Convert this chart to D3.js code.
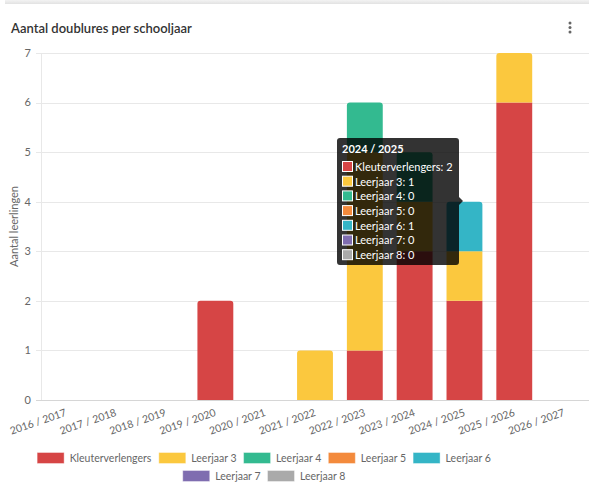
<!DOCTYPE html>
<html>
<head>
<meta charset="utf-8">
<script src="https://cdn.jsdelivr.net/npm/d3@7"></script>
<style>
  body { margin: 0; background: #fff; }
  svg { display: block; }
</style>
</head>
<body>
<div id="chart"></div>
<script>
// schooljaren op de x-as
const schooljaren = ['2016 / 2017', '2017 / 2018', '2018 / 2019', '2019 / 2020', '2020 / 2021',
  '2021 / 2022', '2022 / 2023', '2023 / 2024', '2024 / 2025', '2025 / 2026', '2026 / 2027'];

const reeksen = ['Kleuterverlengers', 'Leerjaar 3', 'Leerjaar 4', 'Leerjaar 5', 'Leerjaar 6', 'Leerjaar 7', 'Leerjaar 8'];

const kleuterverlengers = [0, 0, 0, 2, 0, 0, 1, 3, 2, 6, 0];
const leerjaar3 = [0, 0, 0, 0, 0, 1, 4, 1, 1, 1, 0];
const leerjaar4 = [0, 0, 0, 0, 0, 0, 1, 1, 0, 0, 0];
const leerjaar5 = [0, 0, 0, 0, 0, 0, 0, 0, 0, 0, 0];
const leerjaar6 = [0, 0, 0, 0, 0, 0, 0, 0, 1, 0, 0];
const leerjaar7 = [0, 0, 0, 0, 0, 0, 0, 0, 0, 0, 0];
const leerjaar8 = [0, 0, 0, 0, 0, 0, 0, 0, 0, 0, 0];

const yTicks = [0, 1, 2, 3, 4, 5, 6, 7];
const tooltipJaar = '2024 / 2025';

const kleuren = ['#d64545', '#fbc83e', '#33ba90', '#f38a3c', '#34b5c6', '#7f6db0', '#aaaaaa'];

const waarden = [kleuterverlengers, leerjaar3, leerjaar4, leerjaar5, leerjaar6, leerjaar7, leerjaar8];

const width = 589,
  height = 495;
const font = 'Lato, "Noto Sans", sans-serif';

// tabel per schooljaar
let tabel = schooljaren.map((jaar, i) => {
  let rij = { jaar: jaar };
  reeksen.forEach((r, k) => rij[r] = waarden[k][i]);
  return rij;
});

let color = d3.scaleOrdinal().domain(reeksen).range(kleuren);

let x = d3.scaleBand()
  .domain(schooljaren)
  .range([41, 589])
  .paddingInner(0.28)
  .paddingOuter(0.14);

let y = d3.scaleLinear()
  .domain([0, 7])
  .range([400, 53]);

const svg = d3.select('#chart').append('svg')
  .attr('width', width)
  .attr('height', height)
  .style('font-family', font);

// grijze rand bovenaan (vorige kaart)
const grad = svg.append('defs').append('linearGradient')
  .attr('id', 'rand').attr('x1', 0).attr('x2', 0).attr('y1', 0).attr('y2', 1);
grad.append('stop').attr('offset', 0).attr('stop-color', '#f3f3f3');
grad.append('stop').attr('offset', 1).attr('stop-color', '#e2e2e2');
svg.append('rect').attr('x', 5).attr('y', 0).attr('width', width - 5).attr('height', 4)
  .attr('fill', 'url(#rand)');

// titel
svg.append('text')
  .attr('x', 11).attr('y', 33)
  .attr('fill', '#333')
  .style('font-size', '13px')
  .style('font-weight', 600)
  .text('Aantal doublures per schooljaar');

// menu-puntjes
svg.append('g').selectAll('circle')
  .data([0, 1, 2])
  .enter().append('circle')
  .attr('cx', 570).attr('cy', d => 23 + d * 4.5).attr('r', 1.5)
  .attr('fill', '#666');

// rasterlijnen
svg.append('g').selectAll('line')
  .data(yTicks)
  .enter().append('line')
  .attr('x1', 36).attr('x2', width)
  .attr('y1', d => Math.round(y(d)) + 0.5).attr('y2', d => Math.round(y(d)) + 0.5)
  .attr('stroke', d => d === 0 ? '#d6d6d6' : '#e8e8e8');

svg.append('line')
  .attr('x1', 41.5).attr('x2', 41.5).attr('y1', y(7)).attr('y2', y(0))
  .attr('stroke', '#e8e8e8');

svg.append('g').selectAll('text')
  .data(yTicks)
  .enter().append('text')
  .attr('x', 31).attr('y', d => y(d))
  .attr('dy', '0.35em')
  .attr('text-anchor', 'end')
  .attr('fill', '#666')
  .style('font-size', '11px')
  .text(d => d);

svg.append('text')
  .attr('transform', `translate(18, ${(y(0) + y(7)) / 2}) rotate(-90)`)
  .attr('text-anchor', 'middle')
  .attr('fill', '#666')
  .style('font-size', '11px')
  .text('Aantal leerlingen');

// gestapelde balken
let stack = d3.stack().keys(reeksen);
let lagen = stack(tabel);

// hoogste niet-lege laag per schooljaar krijgt ronde hoeken
let bovenste = schooljaren.map((j, i) => {
  let t = -1;
  lagen.forEach((l, k) => { if (l[i][1] > l[i][0]) t = k; });
  return t;
});

function balk(x0, y0, w, y1, rond) {
  let r = rond ? Math.min(3, (y0 - y1) / 2) : 0;
  return `M${x0},${y0}V${y1 + r}Q${x0},${y1} ${x0 + r},${y1}H${x0 + w - r}Q${x0 + w},${y1} ${x0 + w},${y1 + r}V${y0}Z`;
}

svg.append('g').selectAll('g')
  .data(lagen)
  .enter().append('g')
  .attr('fill', d => color(d.key))
  .selectAll('path')
  .data((d, k) => d.map((s, i) => ({ s: s, i: i, k: k })).filter(e => e.s[1] > e.s[0]))
  .enter().append('path')
  .attr('d', d => balk(x(d.s.data.jaar), y(d.s[0]), x.bandwidth(), y(d.s[1]), bovenste[d.i] === d.k));

// x-as labels
svg.append('g').selectAll('text')
  .data(schooljaren)
  .enter().append('text')
  .attr('transform', d => `translate(${x(d) + x.bandwidth() / 2}, 412) rotate(-19)`)
  .attr('text-anchor', 'end')
  .attr('dy', '0.35em')
  .attr('fill', '#666')
  .style('font-size', '10.5px')
  .text(d => d);

// legende
const rijen = [reeksen.slice(0, 5), reeksen.slice(5)];
const legY = [452, 470];
const legMidden = 263.5;
rijen.forEach((rij, ri) => {
  const g = svg.append('g');
  const items = g.selectAll('g')
    .data(rij)
    .enter().append('g');
  items.append('rect')
    .attr('x', 0.5).attr('y', legY[ri] + 0.5).attr('width', 27).attr('height', 11)
    .attr('fill', d => color(d))
    .attr('stroke', '#fff').attr('stroke-opacity', 0.4);
  items.append('text')
    .attr('x', 33).attr('y', legY[ri] + 6)
    .attr('dy', '0.35em')
    .attr('fill', '#666')
    .style('font-size', '10.5px')
    .text(d => d);
  // breedtes en centreren
  let pos = 0;
  const w = [];
  items.each(function () {
    w.push(this.getBBox().width);
  });
  const gat = 7;
  const totaal = d3.sum(w) + (w.length - 1) * gat;
  let start = legMidden - totaal / 2;
  items.attr('transform', (d, i) => {
    const t = `translate(${start + pos}, 0)`;
    pos += w[i] + gat;
    return t;
  });
});

// tooltip
const ti = schooljaren.indexOf(tooltipJaar);
const tip = svg.append('g').attr('transform', 'translate(337, 138)');
tip.append('path')
  .attr('d', 'M3,0H119Q122,0 122,3V59L126,63L122,67V124Q122,127 119,127H3Q0,127 0,124V3Q0,0 3,0Z')
  .attr('fill', 'rgba(0,0,0,0.8)');
tip.append('text')
  .attr('x', 5).attr('y', 11)
  .attr('dy', '0.35em')
  .attr('fill', '#fff')
  .style('font-size', '11px')
  .style('font-weight', 'bold')
  .text(tooltipJaar);
const regels = tip.selectAll('g.regel')
  .data(reeksen)
  .enter().append('g')
  .attr('class', 'regel')
  .attr('transform', (d, i) => `translate(5, ${23 + i * 14.7})`);
regels.append('rect')
  .attr('x', 0.5).attr('y', 0.5).attr('width', 10).attr('height', 10)
  .attr('fill', d => color(d))
  .attr('stroke', '#fff').attr('stroke-width', 1);
regels.append('text')
  .attr('x', 13).attr('y', 6)
  .attr('dy', '0.35em')
  .attr('fill', '#fff')
  .style('font-size', '11px')
  .text((d, k) => `${d}: ${waarden[k][ti]}`);
</script>
</body>
</html>
